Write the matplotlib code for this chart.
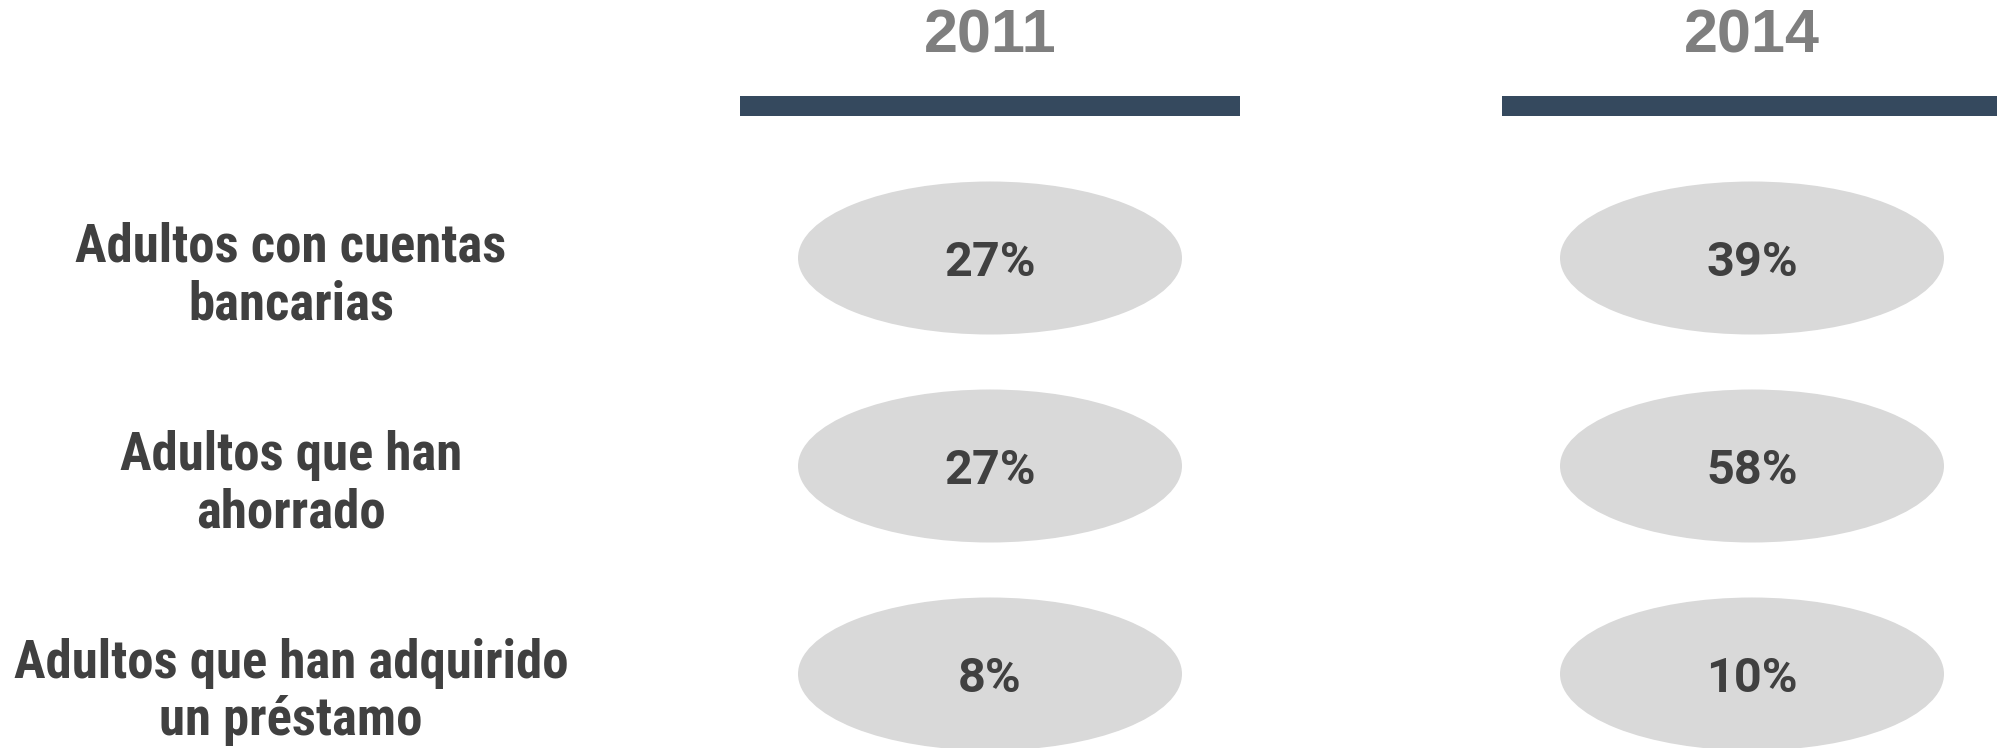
import matplotlib
matplotlib.use("Agg")
import matplotlib.pyplot as plt
from matplotlib import font_manager
from matplotlib.patches import Ellipse, Rectangle

# data
years = ["2011", "2014"]
categories = [
    "Adultos con cuentas\nbancarias",
    "Adultos que han\nahorrado",
    "Adultos que han adquirido\nun préstamo",
]
values_2011 = [27, 27, 8]
values_2014 = [39, 58, 10]

installed = {f.name for f in font_manager.fontManager.ttflist}
label_font = next((n for n in ["Roboto Condensed", "Liberation Sans Narrow",
                               "Open Sans Condensed", "Roboto"]
                   if n in installed), "DejaVu Sans")

W, H = 1997, 748
fig = plt.figure(figsize=(W / 100, H / 100), dpi=100)
ax = fig.add_axes([0, 0, 1, 1])
ax.set_xlim(0, W)
ax.set_ylim(H, 0)
ax.axis("off")

col_x = [990, 1752]          # column centres (px)
row_y = [258, 466, 674]      # ellipse centres (px)
label_x = 291
bar_w, bar_h, bar_y = 500, 20, 96
ell_w, ell_h = 384, 153

for cx, yr, vals in zip(col_x, years, [values_2011, values_2014]):
    ax.text(cx, 37, yr, ha="center", va="center", fontsize=44,
            fontweight="bold", color="#7f7f7f", family="Liberation Sans")
    ax.add_patch(Rectangle((cx - bar_w / 2, bar_y), bar_w, bar_h,
                           color="#35495e", lw=0))
    for cy, v in zip(row_y, vals):
        ax.add_patch(Ellipse((cx, cy), ell_w, ell_h, color="#d9d9d9", lw=0))
        ax.text(cx, cy + 5, f"{v}%", ha="center", va="center", fontsize=35,
                fontweight="bold", color="#404040", family="Roboto")

for cy, lab in zip(row_y, categories):
    ax.text(label_x, cy + 18, lab, ha="center", va="center", fontsize=38,
            fontweight="bold", color="#404040",
            family=[label_font, "DejaVu Sans"], linespacing=1.16)

fig.savefig("out.png", dpi=100, facecolor="white")
